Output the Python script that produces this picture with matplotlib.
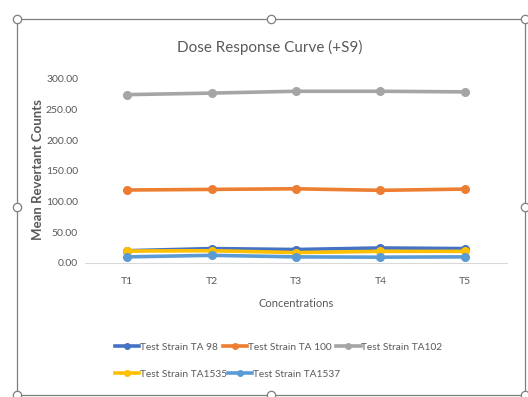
import numpy as np
import matplotlib
matplotlib.use("Agg")
import matplotlib.pyplot as plt
from matplotlib.lines import Line2D

plt.rcParams['font.family'] = ['Lato', 'DejaVu Sans']

concentrations = ["T1", "T2", "T3", "T4", "T5"]
strains = ["Test Strain TA 98", "Test Strain TA 100", "Test Strain TA102",
           "Test Strain TA1535", "Test Strain TA1537"]
ta98 = [20.0, 23.5, 22.0, 24.5, 23.5]
ta100 = [119.0, 120.0, 121.0, 118.5, 120.5]
ta102 = [274.5, 277.0, 280.0, 280.0, 279.0]
ta1535 = [19.5, 20.0, 17.0, 19.0, 19.0]
ta1537 = [10.0, 12.5, 10.0, 9.5, 10.0]
colors = ["#4472C4", "#ED7D31", "#A5A5A5", "#FFC000", "#5B9BD5"]
yticks = [0, 50, 100, 150, 200, 250, 300]

W, H = 528, 397
fig = plt.figure(figsize=(W / 100, H / 100), dpi=100)
ax = fig.add_axes([85 / W, (H - 263) / H, (507 - 85) / W, (263 - 79) / H])

x = np.arange(1, len(concentrations) + 1)
for vals, c in zip([ta98, ta100, ta102, ta1535, ta1537], colors):
    ax.plot(x, vals, color=c, lw=2.6, marker='o', ms=5.5, solid_capstyle='round')

ax.set_xlim(0.5, 5.5)
ax.set_ylim(0, 300)
ax.set_xticks(x)
ax.set_xticklabels(concentrations)
ax.set_yticks(yticks)
ax.set_yticklabels([f"{v:.2f}" for v in yticks])
ax.tick_params(length=0, labelsize=7.5, colors="#595959", pad=5)
ax.tick_params(axis='x', pad=10)
for s in ["top", "right", "left"]:
    ax.spines[s].set_visible(False)
ax.spines["bottom"].set_color("#D9D9D9")
ax.spines["bottom"].set_linewidth(0.8)

ax.set_xlabel("Concentrations", fontsize=8, color="#595959", labelpad=9)
fig.text(38 / W, (H - 170) / H, "Mean Revertant Counts", rotation=90,
         ha='center', va='center', fontsize=9.5, color="#595959",
         fontweight='bold')
fig.text(270 / W, (H - 47) / H, "Dose Response Curve (+S9)", ha='center',
         va='center', fontsize=11, color="#595959")

# legend, two rows
handles = [Line2D([], [], color=c, lw=2.6, marker='o', ms=4) for c in colors]
leg_kw = dict(loc='center left', frameon=False, fontsize=7.3,
              handlelength=2.4, handletextpad=0.05, borderpad=0,
              borderaxespad=0, labelcolor="#595959")
fig.legend(handles[:3], strains[:3], ncol=3, columnspacing=0.5,
           bbox_to_anchor=(115 / W, (H - 347) / H), **leg_kw)
fig.legend(handles[3:], strains[3:], ncol=2, columnspacing=0.1,
           bbox_to_anchor=(115 / W, (H - 374) / H), **leg_kw)

# chart frame with selection handles
fx0, fx1, fy0, fy1 = 17 / W, 525 / W, (H - 395) / H, (H - 19) / H
frame = Line2D([fx0, fx1, fx1, fx0, fx0], [fy1, fy1, fy0, fy0, fy1],
               transform=fig.transFigure, color="#7F7F7F", lw=0.9)
fig.add_artist(frame)
hx = [fx0, (fx0 + fx1) / 2, fx1, fx0, fx1, fx0, (fx0 + fx1) / 2, fx1]
hy = [fy1, fy1, fy1, (fy0 + fy1) / 2, (fy0 + fy1) / 2, fy0, fy0, fy0]
fig.add_artist(Line2D(hx, hy, transform=fig.transFigure, ls='none',
                      marker='o', ms=6, mfc='white', mec="#7F7F7F", mew=0.9))

fig.savefig("out.png", dpi=100)
